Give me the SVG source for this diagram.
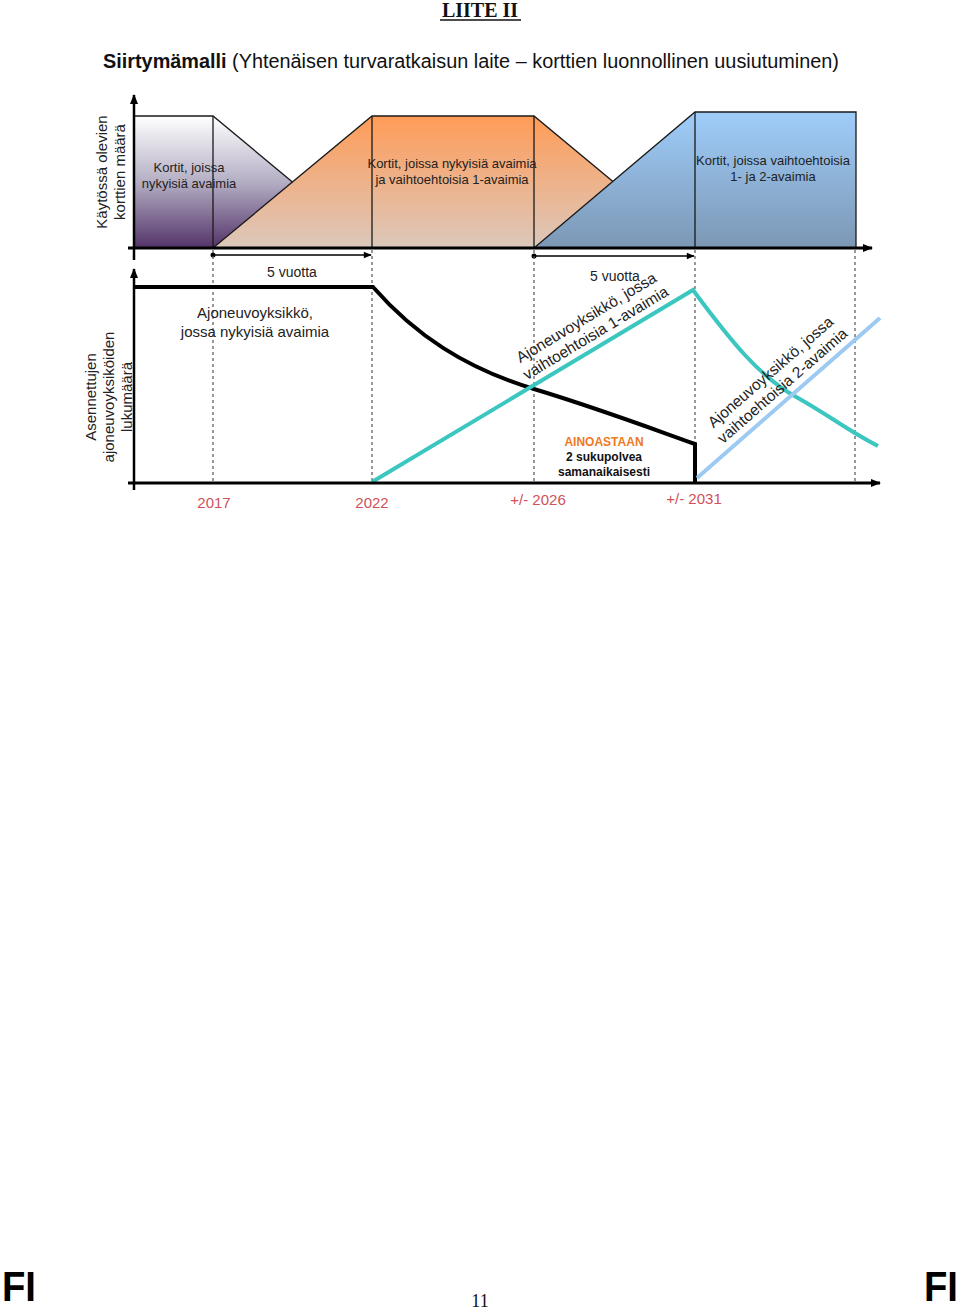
<svg xmlns="http://www.w3.org/2000/svg" width="960" height="1310" viewBox="0 0 960 1310">
<defs>
<linearGradient id="gP" x1="0" y1="0" x2="0" y2="1"><stop offset="0" stop-color="#ffffff"/><stop offset="0.5" stop-color="#b4aec4"/><stop offset="1" stop-color="#533368"/></linearGradient>
<linearGradient id="gO" x1="0" y1="0" x2="0" y2="1"><stop offset="0" stop-color="#ff9c58"/><stop offset="1" stop-color="#dcc8bc"/></linearGradient>
<linearGradient id="gB" x1="0" y1="0" x2="0" y2="1"><stop offset="0" stop-color="#9fcdfa"/><stop offset="1" stop-color="#7c97b4"/></linearGradient>
<marker id="ah" viewBox="0 0 10 10" refX="9" refY="5" markerWidth="10" markerHeight="10" markerUnits="userSpaceOnUse" orient="auto"><path d="M0,1 L10,5 L0,9 z" fill="#000"/></marker>
<marker id="ahs" viewBox="0 0 10 10" refX="9" refY="5" markerWidth="9" markerHeight="8" markerUnits="userSpaceOnUse" orient="auto"><path d="M0,1 L10,5 L0,9 z" fill="#000"/></marker>
<marker id="dot" viewBox="0 0 6 6" refX="3" refY="3" markerWidth="6" markerHeight="6" markerUnits="userSpaceOnUse"><circle cx="3" cy="3" r="2.5" fill="#000"/></marker>
</defs>
<style>
.t{font-family:"Liberation Sans",Arial,sans-serif;fill:#222}
.s13{font-size:13px}
.s15{font-size:15px}
.yr{font-family:"Liberation Sans",Arial,sans-serif;font-size:15px;fill:#d2505a}
.dash{stroke:#555;stroke-width:1.2;stroke-dasharray:3,3;fill:none}
.edge{stroke:#1a1a1a;stroke-width:1.3}
.fi{font-family:"Liberation Sans Narrow","Liberation Sans",Arial,sans-serif;font-weight:bold;font-size:42px;fill:#000}
</style>
<rect width="960" height="1310" fill="#fff"/>

<g id="title">
<text x="480" y="17" text-anchor="middle" font-family="Liberation Serif,serif" font-weight="bold" font-size="20" fill="#111">LIITE II</text>
<line x1="440" y1="20" x2="521" y2="20" stroke="#111" stroke-width="1.5"/>
<text x="471" y="68" text-anchor="middle" font-family="Liberation Sans Narrow,Liberation Sans,Arial,sans-serif" font-size="19.5" fill="#111" textLength="736" lengthAdjust="spacingAndGlyphs"><tspan font-weight="bold">Siirtymämalli</tspan> (Yhtenäisen turvaratkaisun laite – korttien luonnollinen uusiutuminen)</text>
</g>

<g id="top-chart">
<g id="purple-area">
<polygon points="134,116 213,116 372,248 134,248" fill="url(#gP)"/>
<polyline points="134,116 213,116 372,248" fill="none" class="edge"/>
<line x1="213" y1="116" x2="213" y2="248" class="edge"/>
</g>
<g id="orange-area">
<polygon points="213,248 372,116 534,116 693,248" fill="url(#gO)"/>
<polyline points="213,248 372,116 534,116 693,248" fill="none" class="edge"/>
<line x1="372" y1="116" x2="372" y2="248" class="edge"/>
<line x1="534" y1="116" x2="534" y2="248" class="edge"/>
</g>
<g id="blue-area">
<polygon points="534,248 695,112 856,112 856,248" fill="url(#gB)"/>
<polyline points="534,248 695,112 856,112 856,248" fill="none" class="edge"/>
<line x1="695" y1="112" x2="695" y2="248" class="edge"/>
</g>
<text class="t s13" text-anchor="middle"><tspan x="189" y="172">Kortit, joissa</tspan><tspan x="189" y="188">nykyisiä avaimia</tspan></text>
<text class="t s13" text-anchor="middle"><tspan x="452" y="168">Kortit, joissa nykyisiä avaimia</tspan><tspan x="452" y="184">ja vaihtoehtoisia 1-avaimia</tspan></text>
<text class="t s13" text-anchor="middle"><tspan x="773" y="165">Kortit, joissa vaihtoehtoisia</tspan><tspan x="773" y="181">1- ja 2-avaimia</tspan></text>
<text class="t s15" text-anchor="middle" transform="translate(107,172) rotate(-90)"><tspan x="0" y="0">Käytössä olevien</tspan><tspan x="0" y="18">korttien määrä</tspan></text>
<line x1="134" y1="260" x2="134" y2="95" stroke="#000" stroke-width="2.5" marker-end="url(#ah)"/>
<line x1="128" y1="248" x2="872" y2="248" stroke="#000" stroke-width="3" marker-end="url(#ah)"/>
</g>

<g id="connectors">
<line x1="213" y1="255" x2="371" y2="255" stroke="#000" stroke-width="1.3" marker-start="url(#dot)" marker-end="url(#ahs)"/>
<line x1="534" y1="256" x2="694" y2="256" stroke="#000" stroke-width="1.3" marker-start="url(#dot)" marker-end="url(#ahs)"/>
<line x1="213" y1="250" x2="213" y2="482" class="dash"/>
<line x1="372" y1="250" x2="372" y2="482" class="dash"/>
<line x1="534" y1="250" x2="534" y2="482" class="dash"/>
<line x1="695" y1="250" x2="695" y2="482" class="dash"/>
<line x1="855" y1="250" x2="855" y2="482" class="dash"/>
</g>

<g id="bottom-chart">
<text class="t" font-size="14" text-anchor="middle" x="292" y="277">5 vuotta</text>
<text class="t" font-size="14" text-anchor="middle" x="615" y="281">5 vuotta</text>
<path d="M134,287 L373,287 C415,335 465,368 534,389 C600,409 650,428 695,444 L695,483" fill="none" stroke="#000" stroke-width="4"/>
<path d="M372,482 L693,290 C730,340 760,378 798,398 C830,416 850,432 878,446" fill="none" stroke="#3cc6c0" stroke-width="4"/>
<line x1="697" y1="478" x2="880" y2="318" stroke="#9ccaf2" stroke-width="4"/>
<text class="t s15" text-anchor="middle"><tspan x="255" y="318">Ajoneuvoyksikkö,</tspan><tspan x="255" y="337">jossa nykyisiä avaimia</tspan></text>
<text class="t" font-size="15.5" text-anchor="middle" transform="translate(589,322) rotate(-31)"><tspan x="0" y="0">Ajoneuvoyksikkö, jossa</tspan><tspan x="0" y="18">vaihtoehtoisia 1-avaimia</tspan></text>
<text class="t" font-size="15.5" text-anchor="middle" transform="translate(774,376) rotate(-41)"><tspan x="0" y="0">Ajoneuvoyksikkö, jossa</tspan><tspan x="0" y="18">vaihtoehtoisia 2-avaimia</tspan></text>
<text font-family="Liberation Sans,Arial,sans-serif" font-size="12" font-weight="bold" text-anchor="middle"><tspan x="604" y="446" fill="#ee7a22">AINOASTAAN</tspan><tspan x="604" y="461" fill="#111">2 sukupolvea</tspan><tspan x="604" y="476" fill="#111">samanaikaisesti</tspan></text>
<text class="t s15" text-anchor="middle" transform="translate(108,397) rotate(-90)"><tspan x="0" y="-12">Asennettujen</tspan><tspan x="0" y="6">ajoneuvoyksiköiden</tspan><tspan x="0" y="24">lukumäärä</tspan></text>
<line x1="134" y1="490" x2="134" y2="269" stroke="#000" stroke-width="2.5" marker-end="url(#ah)"/>
<line x1="128" y1="483" x2="880" y2="483" stroke="#000" stroke-width="3" marker-end="url(#ah)"/>
<text class="yr" text-anchor="middle" x="214" y="508">2017</text>
<text class="yr" text-anchor="middle" x="372" y="508">2022</text>
<text class="yr" text-anchor="middle" x="538" y="505">+/- 2026</text>
<text class="yr" text-anchor="middle" x="694" y="504">+/- 2031</text>
</g>

<g id="footer">
<text x="2" y="1301" class="fi" textLength="34" lengthAdjust="spacingAndGlyphs">FI</text>
<text x="480" y="1307" text-anchor="middle" font-family="Liberation Serif,serif" font-size="18" fill="#111">11</text>
<text x="924" y="1301" class="fi" textLength="34" lengthAdjust="spacingAndGlyphs">FI</text>
</g>
</svg>
